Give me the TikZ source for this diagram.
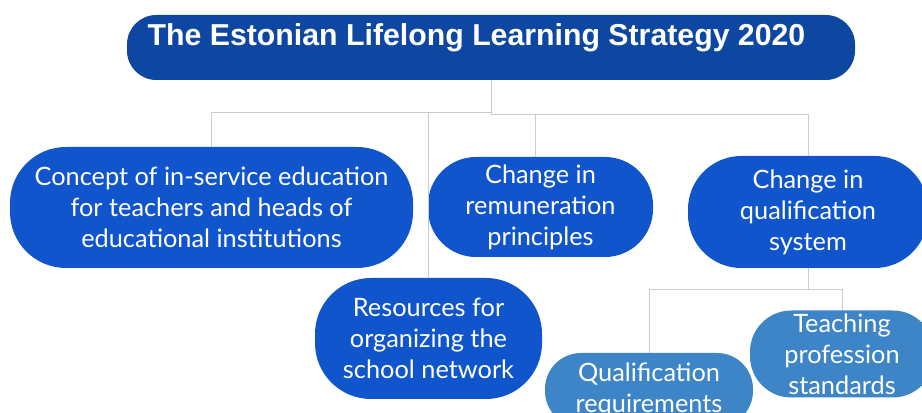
\documentclass[tikz,border=0pt]{standalone}
\usepackage{fontspec}
\setmainfont{Lato}
\newfontfamily\titlefont{Liberation Sans}
\usepackage{xcolor}
\definecolor{darkblue}{HTML}{0D47A1}
\definecolor{midblue}{HTML}{1155CC}
\definecolor{lightblue}{HTML}{3D85C6}
\definecolor{linkgray}{HTML}{CCCCCC}

\begin{document}
\begin{tikzpicture}[x=0.75pt,y=0.75pt,yscale=-1,xscale=1,
  box/.style={fill=midblue,draw=none,inner sep=0pt,text=white,align=center,
    font=\fontsize{19}{23.25}\selectfont},
  subbox/.style={box,fill=lightblue},
  link/.style={draw=linkgray,line width=0.75pt}]
\useasboundingbox (0,0) rectangle (922,413);

%Shape: Title [id:title]
\node [fill=darkblue,inner sep=0pt,minimum width=546pt,minimum height=48.75pt,rounded corners=22pt] (title) at (491,47.5) {};
% Text Node
\node [anchor=base,text=white,font=\titlefont\bfseries\fontsize{22.7}{25}\selectfont] (titletext) at (476.5,45.5) {The Estonian Lifelong Learning Strategy 2020};

%Shape: Rounded boxes, first level
\node [box,minimum width=302.25pt,minimum height=90.75pt,rounded corners=42pt] (concept) at (211.5,207.5) {Concept of in-service education\\for teachers and heads of\\educational institutions};
\node [box,minimum width=168.75pt,minimum height=75pt,rounded corners=36pt] (remun) at (540.5,207) {Change in\\remuneration\\principles};
\node [box,minimum width=180pt,minimum height=84pt,rounded corners=40pt] (qualsys) at (808,212) {Change in\\qualification\\system};
\node [box,minimum width=170.25pt,minimum height=90.75pt,rounded corners=42pt] (resources) at (428.5,338.5) {Resources for\\organizing the\\school network};

%Shape: Rounded boxes, second level
\node [subbox,minimum width=156pt,minimum height=55.5pt,rounded corners=27pt] (qualreq) at (649,390) {Qualification\\requirements};
\node [subbox,minimum width=138pt,minimum height=65.25pt,rounded corners=31pt] (teach) at (842,354) {Teaching\\profession\\standards};

%Straight Lines
\draw [link] (title.south) -- ++(0,34) coordinate (hub) -| (qualsys.north);
\draw [link] (hub) -| ([xshift=-3.5pt]remun.north);
\draw [link] (hub) -- ++(0,-1.5) -| (concept.north);
\draw [link] (resources.north) -- ++(0,-165.5);
\draw [link] (qualsys.south) -- ++(0,21) coordinate (hub2) -| (qualreq.north);
\draw [link] (hub2) -| (teach.north);

\end{tikzpicture}
\end{document}
